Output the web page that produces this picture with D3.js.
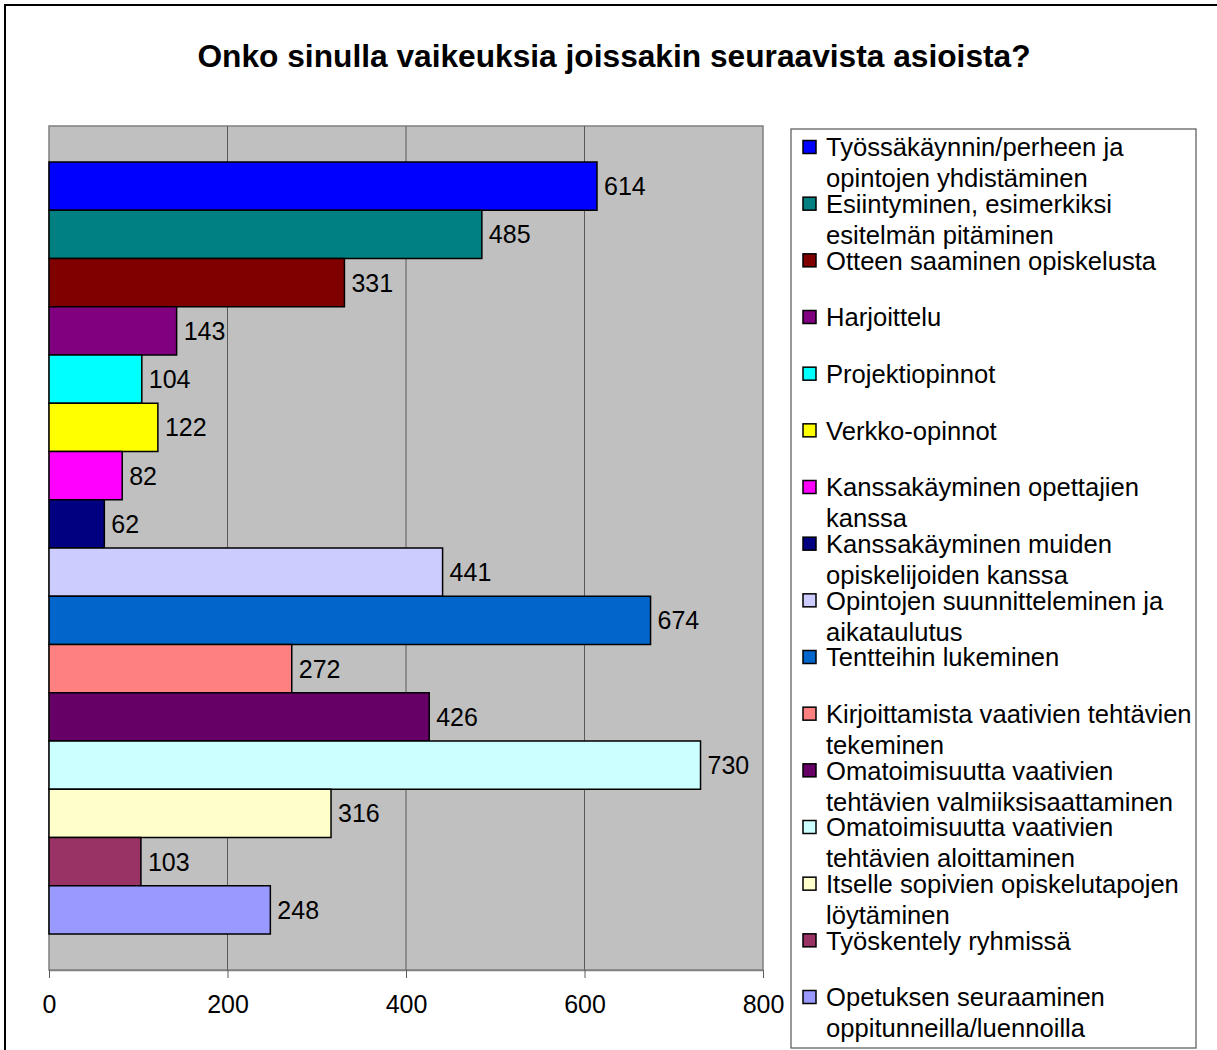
<!DOCTYPE html>
<html>
<head>
<meta charset="utf-8">
<script src="https://cdn.jsdelivr.net/npm/d3@7"></script>
<style>
  body { margin: 0; background: #fff; }
  svg { display: block; font-family: "Liberation Sans", Arial, sans-serif; }
</style>
</head>
<body>
<div id="chart"></div>
<script>
const title = 'Onko sinulla vaikeuksia joissakin seuraavista asioista?'

const categories = [
  'Työssäkäynnin/perheen ja\nopintojen yhdistäminen',
  'Esiintyminen, esimerkiksi\nesitelmän pitäminen',
  'Otteen saaminen opiskelusta',
  'Harjoittelu',
  'Projektiopinnot',
  'Verkko-opinnot',
  'Kanssakäyminen opettajien\nkanssa',
  'Kanssakäyminen muiden\nopiskelijoiden kanssa',
  'Opintojen suunnitteleminen ja\naikataulutus',
  'Tentteihin lukeminen',
  'Kirjoittamista vaativien tehtävien\ntekeminen',
  'Omatoimisuutta vaativien\ntehtävien valmiiksisaattaminen',
  'Omatoimisuutta vaativien\ntehtävien aloittaminen',
  'Itselle sopivien opiskelutapojen\nlöytäminen',
  'Työskentely ryhmissä',
  'Opetuksen seuraaminen\noppitunneilla/luennoilla'
]

const values = [614, 485, 331, 143, 104, 122, 82, 62, 441, 674, 272, 426, 730, 316, 103, 248]

const colors = ['#0000ff', '#008080', '#800000', '#800080', '#00ffff', '#ffff00', '#ff00ff', '#000080',
                '#ccccff', '#0066cc', '#ff8080', '#660066', '#ccffff', '#ffffcc', '#993366', '#9999ff']

const xTicks = [0, 200, 400, 600, 800]

const width = 1217, height = 1050
const plot = { left: 49, right: 763, top: 126, bottom: 970 }

const svg = d3.select('#chart')
  .append('svg')
  .attr('width', width)
  .attr('height', height)

// outer frame (runs past the window on the right and bottom)
svg.append('rect')
  .attr('x', 5).attr('y', 5)
  .attr('width', width + 20).attr('height', height + 20)
  .attr('fill', '#fff')
  .attr('stroke', '#000')
  .attr('stroke-width', 2)

svg.append('text')
  .attr('x', 614).attr('y', 67)
  .attr('text-anchor', 'middle')
  .attr('font-size', 31.7)
  .attr('font-weight', 'bold')
  .text(title)

let x = d3.scaleLinear().domain([0, 800]).range([plot.left, plot.right])
let y = d3.scaleBand()
  .domain(d3.range(values.length))
  .range([plot.top, plot.bottom])
  .paddingInner(0)
  .paddingOuter(0.746)

// plot background
svg.append('rect')
  .attr('x', plot.left).attr('y', plot.top)
  .attr('width', plot.right - plot.left)
  .attr('height', plot.bottom - plot.top)
  .attr('fill', '#c0c0c0')
  .attr('stroke', '#808080')
  .attr('stroke-width', 1.5)

// grid
svg.append('g')
  .selectAll('line')
  .data(xTicks.slice(1, -1))
  .enter()
  .append('line')
  .attr('x1', d => x(d)).attr('x2', d => x(d))
  .attr('y1', plot.top).attr('y2', plot.bottom)
  .attr('stroke', '#5a5a5a')
  .attr('stroke-width', 1)

// x axis
let axis = svg.append('g')
  .attr('transform', `translate(0,${plot.bottom})`)
  .call(d3.axisBottom(x).tickValues(xTicks).tickSize(8).tickPadding(17).tickSizeOuter(0))
axis.select('.domain').attr('stroke', '#808080').attr('stroke-width', 1.5)
axis.selectAll('.tick line').attr('stroke', '#5a5a5a')
axis.selectAll('.tick text')
  .attr('font-size', 25)
  .attr('font-family', '"Liberation Sans", Arial, sans-serif')
  .attr('fill', '#000')

// bars
svg.append('g')
  .selectAll('rect')
  .data(values)
  .enter()
  .append('rect')
  .attr('x', x(0))
  .attr('y', (d, i) => y(i))
  .attr('width', d => x(d) - x(0))
  .attr('height', y.bandwidth())
  .attr('fill', (d, i) => colors[i])
  .attr('stroke', '#000')
  .attr('stroke-width', 1.5)

// value labels
svg.append('g')
  .selectAll('text')
  .data(values)
  .enter()
  .append('text')
  .attr('x', d => x(d) + 7)
  .attr('y', (d, i) => y(i) + y.bandwidth() / 2)
  .attr('dy', '0.36em')
  .attr('font-size', 25)
  .text(d => d)

// legend
let legend = { left: 791, top: 129, right: 1196, bottom: 1048 }
svg.append('rect')
  .attr('x', legend.left).attr('y', legend.top)
  .attr('width', legend.right - legend.left)
  .attr('height', legend.bottom - legend.top)
  .attr('fill', '#fff')
  .attr('stroke', '#555')
  .attr('stroke-width', 1.2)

let ly = d3.scaleLinear().domain([0, categories.length - 1]).range([147, 997])
let item = svg.append('g')
  .selectAll('g')
  .data(categories)
  .enter()
  .append('g')
  .attr('transform', (d, i) => `translate(0,${ly(i)})`)

item.append('rect')
  .attr('x', 803).attr('y', -6.5)
  .attr('width', 13).attr('height', 13)
  .attr('fill', (d, i) => colors[i])
  .attr('stroke', '#000')
  .attr('stroke-width', 1.5)

item.append('text')
  .attr('font-size', 25.6)
  .selectAll('tspan')
  .data(d => d.split('\n'))
  .enter()
  .append('tspan')
  .attr('x', 826)
  .attr('y', (d, i) => i * 31)
  .attr('dy', '0.36em')
  .text(d => d)
</script>
</body>
</html>
